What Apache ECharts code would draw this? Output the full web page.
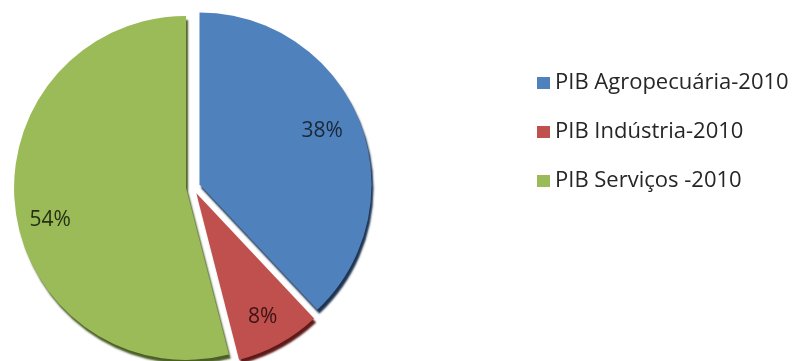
<!DOCTYPE html>
<html><head><meta charset="utf-8">
<script src="https://cdn.jsdelivr.net/npm/echarts@6/dist/echarts.min.js"></script>
<style>html,body{margin:0;padding:0;background:#fff}#c{width:801px;height:361px}</style>
</head><body><div id="c"></div>
<script>
const categories = ['PIB Agropecuária-2010', 'PIB Indústria-2010', 'PIB Serviços -2010'];
const values = [38, 8, 54];

const colors = ['#4F81BD', '#C0504D', '#9BBB59'];
const edgeColors = ['#1d3350', '#5e1a18', '#4a5e26'];
const labelColors = ['#1b2838', '#3a1312', '#263014'];
const labelNudge = [[-15, 1], [-5, -6], [11, 14]];

const chart = echarts.init(document.getElementById('c'));
const center = [193, 187];
const baseData = categories.map((n, i) => ({
  name: n, value: values[i], selected: true,
  itemStyle: { color: colors[i], shadowColor: edgeColors[i], shadowBlur: 2, shadowOffsetX: 2, shadowOffsetY: 4 }
}));
const labelData = categories.map((n, i) => ({
  name: n, value: values[i], selected: true,
  label: { color: labelColors[i] }
}));
chart.setOption({
  animation: false,
  color: colors,
  legend: {
    orient: 'vertical', left: 532, top: 67,
    itemWidth: 13, itemHeight: 12, itemGap: 27,
    icon: 'rect',
    data: categories,
    textStyle: { fontFamily: 'Open Sans', fontSize: 22, lineHeight: 22, color: '#262626', padding: [0, 0, 0, 0] }
  },
  series: [
    {
      type: 'pie', center: center, radius: [0, 172], startAngle: 90, clockwise: true,
      selectedMode: 'multiple', selectedOffset: 7,
      label: { show: false }, labelLine: { show: false },
      emphasis: { disabled: true },
      data: baseData
    },
    {
      type: 'pie', center: center, radius: [0, 290], startAngle: 90, clockwise: true,
      selectedMode: 'multiple', selectedOffset: 7, silent: true,
      itemStyle: { color: 'rgba(0,0,0,0)' },
      label: { show: true, position: 'inner', formatter: '{d}%', fontFamily: 'Open Sans', fontSize: 21 },
      labelLine: { show: false },
      labelLayout: function (p) { const n = labelNudge[p.dataIndex]; return { dx: n[0], dy: n[1] }; },
      emphasis: { disabled: true },
      data: labelData
    }
  ]
});
</script></body></html>
